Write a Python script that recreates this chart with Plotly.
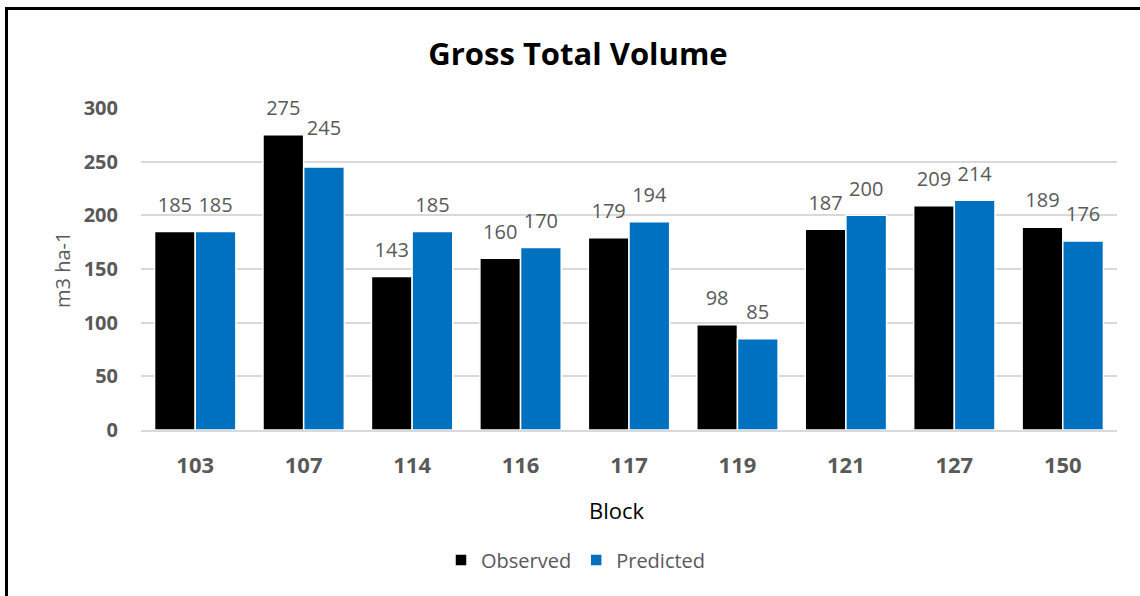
import plotly.graph_objects as go

blocks = ["103", "107", "114", "116", "117", "119", "121", "127", "150"]
observed = [185, 275, 143, 160, 179, 98, 187, 209, 189]
predicted = [185, 245, 185, 170, 194, 85, 200, 214, 176]

W, H = 1140, 596
L, R, T, B = 141, 23, 108, 166
pw, ph = W - L - R, H - T - B

def px(x):
    return (x - L) / pw

def py(y):
    return (H - B - y) / ph

gray = "#595959"
font = "Open Sans"

# invisible marker sizes control label offset above bars (one label was lifted in the original)
label_pad = {"Observed": [22] * len(blocks),
             "Predicted": [42 if b == "107" else 22 for b in blocks]}

fig = go.Figure()
for name, vals, color in [("Observed", observed, "#000000"), ("Predicted", predicted, "#0070C0")]:
    fig.add_bar(x=blocks, y=vals, name=name, offsetgroup=name,
                marker=dict(color=color, line=dict(color="white", width=1.5)),
                hoverinfo="skip")
for name, vals in [("Observed", observed), ("Predicted", predicted)]:
    fig.add_scatter(x=blocks, y=vals, mode="markers+text", text=vals, offsetgroup=name,
                    textposition="top center", cliponaxis=False, showlegend=False,
                    marker=dict(size=label_pad[name], opacity=0), hoverinfo="skip",
                    textfont=dict(family=font, size=20, color=gray))

fig.update_layout(
    width=W, height=H,
    margin=dict(l=L, r=R, t=T, b=B, autoexpand=False),
    paper_bgcolor="white", plot_bgcolor="white",
    barmode="group", bargap=0.25, bargroupgap=0.0,
    scattermode="group", scattergap=0.25,
    font=dict(family=font, color=gray),
    title=dict(text="<b>Gross Total Volume</b>", x=578 / W, xref="container",
               y=1 - 54 / H, yref="container", xanchor="center", yanchor="middle",
               font=dict(family=font, size=31, color="#000000")),
    showlegend=True,
    legend=dict(orientation="h", x=px(576), y=py(560), xanchor="center", yanchor="middle",
                font=dict(family=font, size=20, color=gray), itemwidth=30,
                traceorder="normal"),
    xaxis=dict(type="category", showgrid=False, showline=True, linecolor="#D9D9D9",
               linewidth=1.5, ticks="", ticklabelstandoff=15,
               tickfont=dict(family=font, size=22, color=gray, weight="bold")),
    yaxis=dict(range=[0, 300], dtick=50, showgrid=True, gridcolor="#D9D9D9", gridwidth=1.5,
               zeroline=False, showline=False, ticks="", ticklabelstandoff=22,
               tickfont=dict(family=font, size=20, color=gray, weight="bold")),
    shapes=[dict(type="rect", xref="paper", yref="paper",
                 x0=px(6.5), x1=px(1170), y0=py(640), y1=py(8.5),
                 line=dict(color="#000000", width=3), fillcolor="rgba(0,0,0,0)", layer="above")],
    annotations=[
        dict(text="m3 ha-1", textangle=-90, x=px(62), y=py(270), xref="paper", yref="paper",
             showarrow=False, xanchor="center", yanchor="middle",
             font=dict(family=font, size=20, color=gray)),
        dict(text="Block", x=px(617), y=py(510), xref="paper", yref="paper",
             showarrow=False, xanchor="center", yanchor="middle",
             font=dict(family=font, size=22, color="#000000")),
    ],
)

fig.write_html("out.html", config={"displayModeBar": False},
               post_script="document.body.style.margin='0px';document.body.style.overflow='hidden';")
